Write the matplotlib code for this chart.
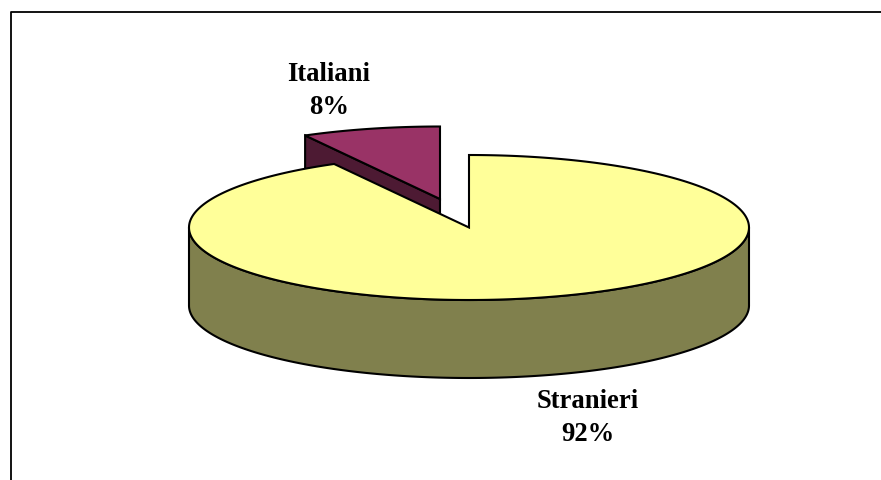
import numpy as np
import matplotlib
matplotlib.use("Agg")
import matplotlib.pyplot as plt
from matplotlib.patches import Polygon

labels = ["Italiani", "Stranieri"]
shares = [8, 92]
top_colors = ["#993366", "#FFFF99"]
side_colors = ["#4D1A33", "#80804D"]

plt.rcParams["font.family"] = ["Liberation Serif", "DejaVu Serif"]

# pie geometry in image pixels
CX, CY = 469, 228.5
RX, RY = 280, 72.5
DEPTH = 78
EXPLODE = (-29, -28.5)
LW = 1.5


def arc(cx, cy, a0, a1):
    # angles are clockwise from 12 o'clock, in degrees
    t = np.radians(np.linspace(a0, a1, 300))
    return np.column_stack([cx + RX * np.sin(t), cy - RY * np.cos(t)])


def add_poly(ax, pts, color, z):
    ax.add_patch(Polygon(pts, closed=True, facecolor=color, edgecolor="black",
                         linewidth=LW, joinstyle="miter", zorder=z))


fig = plt.figure(figsize=(8.81, 4.81), dpi=100)
ax = fig.add_axes([0, 0, 1, 1])
ax.set_xlim(0, 881)
ax.set_ylim(481, 0)
ax.axis("off")

# outer chart frame, only left and top fall inside the picture
ax.plot([11, 11, 881], [481, 13, 13], color="black", lw=1.3, zorder=1)

angle = 360 * shares[0] / sum(shares)

# Italiani slice, pulled out of the pie
ix, iy = CX + EXPLODE[0], CY + EXPLODE[1]
rim = arc(ix, iy, -angle, 0)
apex = np.array([ix, iy])
down = np.array([0, DEPTH])
add_poly(ax, [apex, rim[0], rim[0] + down, apex + down], side_colors[0], 2)
add_poly(ax, np.vstack([apex, rim]), top_colors[0], 3)

# Stranieri slice: front wall first, then the top
front = arc(CX, CY, 90, 270)
add_poly(ax, np.vstack([front, (front + down)[::-1]]), side_colors[1], 4)
add_poly(ax, np.vstack([[CX, CY], arc(CX, CY, 0, 360 - angle)]), top_colors[1], 5)

ax.text(329, 91, f"{labels[0]}\n{shares[0]}%", ha="center", va="center",
        fontsize=19.2, fontweight="bold", linespacing=1.42, zorder=6)
ax.text(588, 418, f"{labels[1]}\n{shares[1]}%", ha="center", va="center",
        fontsize=19.2, fontweight="bold", linespacing=1.42, zorder=6)

fig.savefig("out.png", dpi=100)
